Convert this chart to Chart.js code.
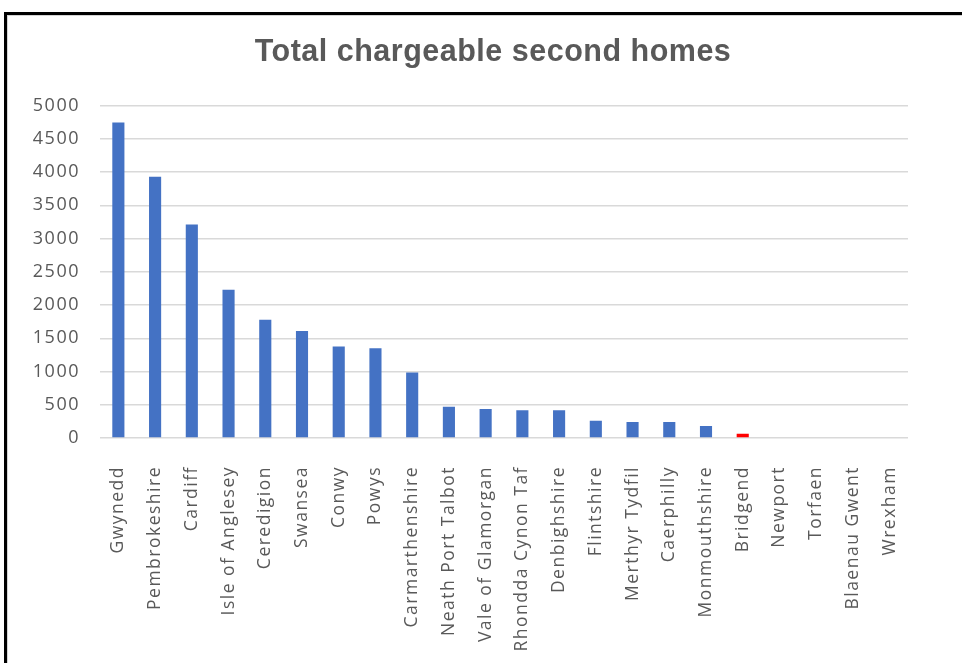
<!DOCTYPE html>
<html>
<head>
<meta charset="utf-8">
<script src="https://cdn.jsdelivr.net/npm/chart.js@4/dist/chart.umd.min.js"></script>
<style>
  html, body { margin: 0; padding: 0; background: #fff; width: 962px; height: 663px; overflow: hidden; }
  #frame { position: absolute; left: 4px; top: 12px; width: 1100px; height: 800px; border: 3px solid #000; box-shadow: inset 1px 1px 0 #d4d4d4; }
  #c { position: absolute; left: 0; top: 0; }
</style>
</head>
<body>
<div id="frame"></div>
<canvas id="c" width="986" height="663"></canvas>
<script>
const titleText = 'Total chargeable second homes';
const categories = ['Gwynedd', 'Pembrokeshire', 'Cardiff', 'Isle of Anglesey', 'Ceredigion', 'Swansea', 'Conwy', 'Powys', 'Carmarthenshire', 'Neath Port Talbot', 'Vale of Glamorgan', 'Rhondda Cynon Taf', 'Denbighshire', 'Flintshire', 'Merthyr Tydfil', 'Caerphilly', 'Monmouthshire', 'Bridgend', 'Newport', 'Torfaen', 'Blaenau Gwent', 'Wrexham'];
const secondHomes = [4745, 3930, 3210, 2230, 1780, 1610, 1375, 1350, 985, 470, 437, 416, 416, 260, 240, 240, 180, 65, 0, 0, 0, 0];
const yTicks = [0, 500, 1000, 1500, 2000, 2500, 3000, 3500, 4000, 4500, 5000];
const highlighted = 'Bridgend';

const spacingPlugin = {
  id: 'spacing',
  beforeUpdate(chart) { chart.ctx.letterSpacing = '1.5px'; },
  beforeLayout(chart) { chart.ctx.letterSpacing = '1.5px'; },
  beforeDraw(chart) { chart.ctx.letterSpacing = '0.5px'; },
  afterDatasetsDraw(chart) { chart.ctx.letterSpacing = '1.5px'; }
};

function draw() {
  new Chart(document.getElementById('c'), {
    type: 'bar',
    data: {
      labels: categories,
      datasets: [{
        data: secondHomes,
        backgroundColor: categories.map(c => c === highlighted ? '#FF0000' : '#4472C4'),
        borderWidth: 0,
        barPercentage: 0.33,
        categoryPercentage: 1.0
      }]
    },
    plugins: [spacingPlugin],
    options: {
      responsive: false,
      animation: false,
      devicePixelRatio: 1,
      layout: { padding: 0 },
      plugins: {
        legend: { display: false },
        tooltip: { enabled: false },
        title: {
          display: true,
          text: titleText,
          color: '#595959',
          font: { family: "'Liberation Sans', Arial, sans-serif", size: 30.5, weight: 'bold', lineHeight: 1.1 },
          padding: { top: 36, bottom: 36 }
        }
      },
      scales: {
        x: {
          grid: { display: false },
          border: { display: false },
          ticks: {
            z: 1,
            color: '#595959',
            font: { family: "'Open Sans', sans-serif", size: 17.5 },
            minRotation: 90,
            maxRotation: 90,
            autoSkip: false,
            padding: 20
          },
          afterFit(s) { s.height = 225; }
        },
        y: {
          min: 0,
          max: 5000,
          afterBuildTicks(s) { s.ticks = yTicks.map(v => ({ value: v })); },
          grid: { color: '#d9d9d9', lineWidth: 1.5, drawTicks: false },
          border: { display: false },
          ticks: {
            z: 1,
            color: '#595959',
            font: { family: "'Open Sans', sans-serif", size: 18 },
            padding: 20,
            callback: v => String(v)
          },
          afterFit(s) { s.width = 100; }
        },
        yR: {
          type: 'linear',
          position: 'right',
          display: true,
          grid: { display: false },
          border: { display: false },
          ticks: { display: false },
          afterFit(s) { s.width = 78; }
        }
      }
    }
  });
}

Promise.race([
  Promise.all([
    document.fonts.load("16px 'Open Sans'"),
    document.fonts.load("bold 28px 'Liberation Sans'")
  ]),
  new Promise(r => setTimeout(r, 800))
]).then(draw, draw);
</script>
</body>
</html>
